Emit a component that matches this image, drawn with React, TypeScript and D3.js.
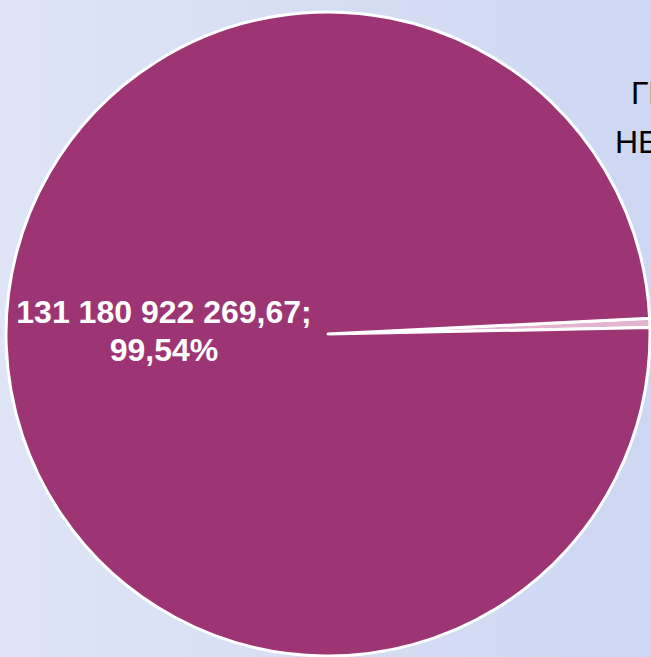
import * as d3 from "d3";
import { useEffect, useRef } from "react";

const categories = ["ГРАНТЫ", "НЕКОММЕРЧЕСКИМ ОРГАНИЗАЦИЯМ", "Прочие"];
const values = [606220858.46, 131180922269.67];
const percents = ["0,46%", "99,54%"];
const valueLabels = ["606 220 858,46", "131 180 922 269,67"];

export default function App() {
  const ref = useRef<SVGSVGElement | null>(null);

  useEffect(() => {
    document.body.style.margin = "0";
    const el = ref.current;
    if (!el) return;
    const svg = d3.select(el);
    svg.selectAll("*").remove();

    const W = 651;
    const H = 657;
    const cx = 328;
    const cy = 334;
    const r = 322;

    const defs = svg.append("defs");
    const grad = defs
      .append("linearGradient")
      .attr("id", "bg")
      .attr("x1", "0")
      .attr("y1", "0")
      .attr("x2", "1")
      .attr("y2", "0");
    grad.append("stop").attr("offset", "0").attr("stop-color", "#dfe4f7");
    grad.append("stop").attr("offset", "1").attr("stop-color", "#cdd7f2");

    svg.append("rect").attr("width", W).attr("height", H).attr("fill", "url(#bg)");

    const start = (87.2 * Math.PI) / 180;
    const pie = d3
      .pie<number>()
      .sort(null)
      .value((d) => d)
      .startAngle(start)
      .endAngle(start + 2 * Math.PI);
    const arcs = pie(values);
    const arc = d3.arc<d3.PieArcDatum<number>>().innerRadius(0).outerRadius(r);
    const colors = ["#e3b3cf", "#9d3575"];

    const g = svg.append("g").attr("transform", `translate(${cx},${cy})`);
    g.selectAll("path")
      .data(arcs)
      .join("path")
      .attr("d", arc)
      .attr("fill", (_, i) => colors[i])
      .attr("stroke", "#ffffff")
      .attr("stroke-width", 3)
      .attr("stroke-linejoin", "round");

    // big slice label
    const big = svg
      .append("text")
      .attr("text-anchor", "middle")
      .attr("fill", "#ffffff")
      .attr("font-family", "'Liberation Sans', Arial, sans-serif")
      .attr("font-weight", "bold")
      .attr("font-size", 32);
    big.append("tspan").attr("x", 164).attr("y", 323).text(`${valueLabels[1]};`);
    big.append("tspan").attr("x", 164).attr("y", 361).text(percents[1]);

    // small slice label (runs off the right edge, as in the original)
    const small = svg
      .append("text")
      .attr("fill", "#000000")
      .attr("font-family", "'Liberation Sans', Arial, sans-serif")
      .attr("font-size", 32);
    small.append("tspan").attr("x", 631).attr("y", 104).text(categories[0]);
    small.append("tspan").attr("x", 615).attr("y", 153).text(categories[1]);
  }, []);

  return (
    <svg
      ref={ref}
      width={651}
      height={657}
      style={{ position: "absolute", left: 0, top: 0, display: "block" }}
    />
  );
}
